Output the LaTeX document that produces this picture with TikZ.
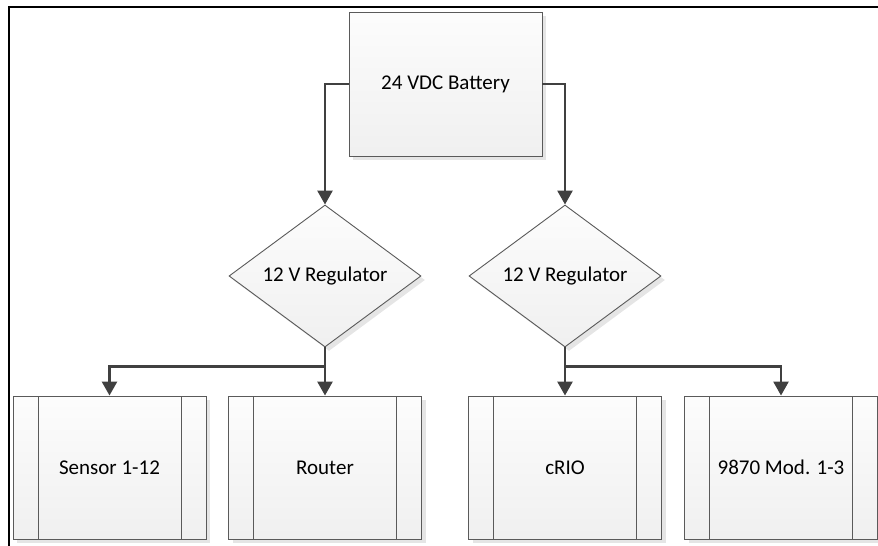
\documentclass[tikz,border=0pt]{standalone}
\usepackage{fontspec}
\setmainfont{Carlito}
\usetikzlibrary{shapes.geometric,arrows.meta,shadows}

\definecolor{wirecol}{HTML}{404040}
\definecolor{edgecol}{HTML}{5A5A5A}

\begin{document}
\begin{tikzpicture}[x=1pt,y=-1pt,
	font=\fontsize{21}{25}\selectfont,
	block/.style={rectangle,draw=edgecol,line width=0.9pt,
		top color=gray!2,bottom color=gray!12,
		drop shadow={shadow xshift=4pt,shadow yshift=-4pt,fill=gray!20,opacity=1},
		minimum width=193pt,minimum height=144pt,inner sep=0pt},
	process/.style={block,minimum height=143pt,
		path picture={
			\draw[edgecol,line width=0.9pt]
				([xshift=25pt]path picture bounding box.north west) --
				([xshift=25pt]path picture bounding box.south west);
			\draw[edgecol,line width=0.9pt]
				([xshift=-25pt]path picture bounding box.north east) --
				([xshift=-25pt]path picture bounding box.south east);
		}},
	regulator/.style={diamond,draw=edgecol,line width=0.9pt,
		top color=gray!2,bottom color=gray!12,
		drop shadow={shadow xshift=4pt,shadow yshift=-4pt,fill=gray!20,opacity=1},
		aspect=1.35,minimum width=192pt,minimum height=142pt,inner sep=0pt},
	wire/.style={draw=wirecol,line width=2.6pt,
		-{Triangle[width=15pt,length=14pt]}}]
	\useasboundingbox (0,0) rectangle (878,546);

	% frame
	\draw[black,line width=2.2pt] (9,546) -- (9,7) -- (878,7);

	% supply
	\node[block] (battery) at (445.5,84) {24 VDC Battery};
	\node[regulator] (regL) at (325,276) {12 V Regulator};
	\node[regulator] (regR) at (565,276) {12 V Regulator};

	% loads
	\node[process] (sensor) at (109.5,467.5) {Sensor 1-12};
	\node[process] (router) at (325,467.5) {Router};
	\node[process] (crio) at (565,467.5) {cRIO};
	\node[process] (mod) at (781,467.5) {9870 Mod. 1-3};

	\path[wire] (battery.west) -| (regL.north);
	\path[wire] (battery.east) -| (regR.north);
	\path[wire] (regL.south) -- ++(0,19) -| (sensor.north);
	\path[wire] (regL.south) -- (router.north);
	\path[wire] (regR.south) -- (crio.north);
	\path[wire] (regR.south) -- ++(0,19) -| (mod.north);
\end{tikzpicture}
\end{document}
